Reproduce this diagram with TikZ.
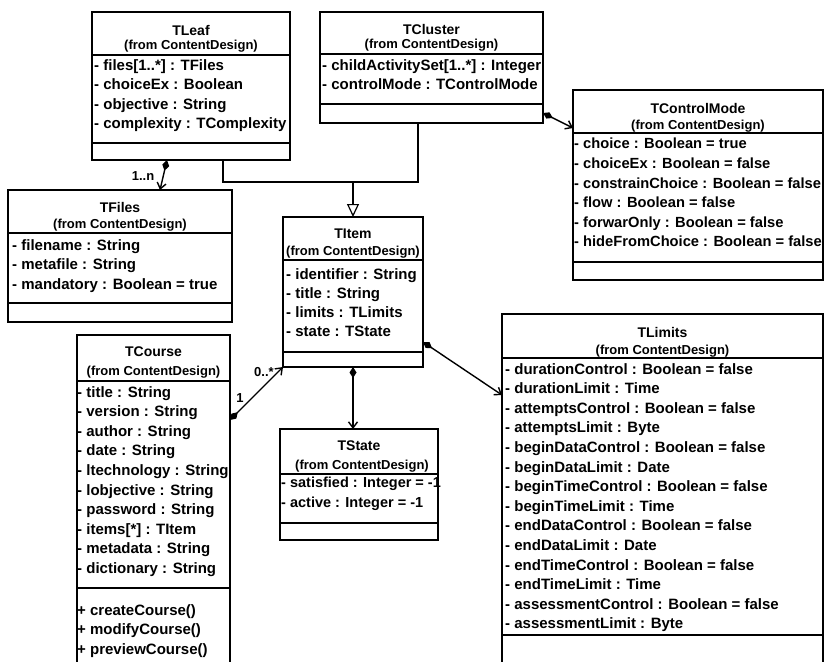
\documentclass[tikz,border=0pt]{standalone}
\usepackage{fontspec}
\setmainfont{Liberation Sans}
\usetikzlibrary{arrows.meta,calc}
\begin{document}
\begin{tikzpicture}[x=1pt,y=-1pt,
 box/.style={draw, line width=1.1pt, anchor=north west, inner sep=0pt, outer sep=0pt},
 ttl/.style={font=\bfseries\fontsize{14}{16}\selectfont, inner sep=0pt},
 frm/.style={font=\bfseries\fontsize{13}{15}\selectfont, inner sep=0pt},
 attr/.style={font=\bfseries\fontsize{15}{19.6}\selectfont, align=left, anchor=north west, inner sep=0pt},
 sepline/.style={line width=1.1pt},
 gen/.style={line width=1.2pt},
 comp/.style={line width=1.4pt, {Diamond[length=11pt,width=7pt]}-{Straight Barb[length=6pt,width=9pt]}},
 lbl/.style={font=\bfseries\fontsize{13}{15}\selectfont, inner sep=0pt}
]
\fill[white] (0,0) rectangle (824,661);
\clip (0,0) rectangle (824,661);

% TLeaf
\node[box, minimum width=198pt, minimum height=148pt] (leaf) at (92,12) {};
\node[ttl] (leaft) at (191,30) {TLeaf};
\node[frm] (leaff) at (191,46) {(from ContentDesign)};
\draw[sepline] (leaf.west |- 0,55) -- (leaf.east |- 0,55);
\node[attr] (leafa) at (94,59) {- files[1..*] : TFiles\\- choiceEx : Boolean\\- objective : String\\- complexity : TComplexity};
\draw[sepline] (leaf.west |- 0,143) -- (leaf.east |- 0,143);

% TCluster
\node[box, minimum width=223pt, minimum height=111pt] (cluster) at (320,12) {};
\node[ttl] (clustert) at (431.5,29) {TCluster};
\node[frm] (clusterf) at (431.5,45) {(from ContentDesign)};
\draw[sepline] (cluster.west |- 0,54) -- (cluster.east |- 0,54);
\node[attr] (clustera) at (322,59) {- childActivitySet[1..*] : Integer\\- controlMode : TControlMode};
\draw[sepline] (cluster.west |- 0,104) -- (cluster.east |- 0,104);

% TControlMode
\node[box, minimum width=250pt, minimum height=190pt] (ctrl) at (573,90) {};
\node[ttl] (ctrlt) at (698,108) {TControlMode};
\node[frm] (ctrlf) at (698,126) {(from ContentDesign)};
\draw[sepline] (ctrl.west |- 0,133) -- (ctrl.east |- 0,133);
\node[attr, font=\bfseries\fontsize{14.7}{19.6}\selectfont] (ctrla) at (574,138) {- choice : Boolean = true\\- choiceEx : Boolean = false\\- constrainChoice : Boolean = false\\- flow : Boolean = false\\- forwarOnly : Boolean = false\\- hideFromChoice : Boolean = false};
\draw[sepline] (ctrl.west |- 0,262) -- (ctrl.east |- 0,262);

% TFiles
\node[box, minimum width=224pt, minimum height=132pt] (files) at (8,190) {};
\node[ttl] (filest) at (120,207) {TFiles};
\node[frm] (filesf) at (120,225) {(from ContentDesign)};
\draw[sepline] (files.west |- 0,233) -- (files.east |- 0,233);
\node[attr] (filesa) at (12,239) {- filename : String\\- metafile : String\\- mandatory : Boolean = true};
\draw[sepline] (files.west |- 0,303) -- (files.east |- 0,303);

% TItem
\node[box, minimum width=140pt, minimum height=150pt] (item) at (283,217) {};
\node[ttl] (itemt) at (353,234) {TItem};
\node[frm] (itemf) at (353,252) {(from ContentDesign)};
\draw[sepline] (item.west |- 0,260) -- (item.east |- 0,260);
\node[attr, font=\bfseries\fontsize{15}{19}\selectfont] (itema) at (286,268) {- identifier : String\\- title : String\\- limits : TLimits\\- state : TState};
\draw[sepline] (item.west |- 0,352) -- (item.east |- 0,352);

% TState
\node[box, minimum width=158pt, minimum height=111pt] (state) at (280,429) {};
\node[ttl] (statet) at (359,446) {TState};
\node[frm] (statef) at (362,466) {(from ContentDesign)};
\draw[sepline] (state.west |- 0,474) -- (state.east |- 0,474);
\node[attr, font=\bfseries\fontsize{14.5}{19.6}\selectfont] (statea) at (281,477) {- satisfied : Integer = -1\\- active : Integer = -1};
\draw[sepline] (state.west |- 0,523) -- (state.east |- 0,523);

% TCourse
\node[box, minimum width=153pt, minimum height=400pt] (course) at (77,335) {};
\node[ttl] (courset) at (153.5,352) {TCourse};
\node[frm] (coursef) at (153.5,372) {(from ContentDesign)};
\draw[sepline] (course.west |- 0,381) -- (course.east |- 0,381);
\node[attr] (coursea) at (77,386) {- title : String\\- version : String\\- author : String\\- date : String\\- ltechnology : String\\- lobjective : String\\- password : String\\- items[*] : TItem\\- metadata : String\\- dictionary : String};
\draw[sepline] (course.west |- 0,588) -- (course.east |- 0,588);
\node[attr] (coursem) at (77,604) {+ createCourse()\\+ modifyCourse()\\+ previewCourse()};

% TLimits
\node[box, minimum width=321pt, minimum height=400pt] (limits) at (502,314) {};
\node[ttl] (limitst) at (662.5,332) {TLimits};
\node[frm] (limitsf) at (662.5,351) {(from ContentDesign)};
\draw[sepline] (limits.west |- 0,358) -- (limits.east |- 0,358);
\node[attr] (limitsa) at (505,363) {- durationControl : Boolean = false\\- durationLimit : Time\\- attemptsControl : Boolean = false\\- attemptsLimit : Byte\\- beginDataControl : Boolean = false\\- beginDataLimit : Date\\- beginTimeControl : Boolean = false\\- beginTimeLimit : Time\\- endDataControl : Boolean = false\\- endDataLimit : Date\\- endTimeControl : Boolean = false\\- endTimeLimit : Time\\- assessmentControl : Boolean = false\\- assessmentLimit : Byte};
\draw[sepline] (limits.west |- 0,635) -- (limits.east |- 0,635);

% generalization
\coordinate (gj) at (item.north |- 0,182);
\draw[gen] ($(leaf.south west)+(131,0)$) |- ($(cluster.south west)+(98,59)$) -- ($(cluster.south west)+(98,0)$);
\draw[gen, -{Triangle[open, length=13pt, width=12pt, line width=1.2pt]}] (gj) -- (item.north);

% compositions
\draw[comp] ($(leaf.south west)+(75,0)$) -- ($(files.north west)+(152,0)$);
\node[lbl] (l1n) at (143,176) {1..n};
\draw[comp] ($(cluster.north east)+(0,101)$) -- ($(ctrl.north west)+(0,38)$);
\draw[comp] ($(item.north east)+(0,125)$) -- ($(limits.north west)+(0,81)$);
\draw[comp] (item.south) -- (state.north -| item.south);
\draw[comp] ($(course.north east)+(0,85)$) -- (item.south west);
\node[lbl] (lone) at (240,398) {1};
\node[lbl] (lmany) at (264,372) {0..*};
\end{tikzpicture}
\end{document}
